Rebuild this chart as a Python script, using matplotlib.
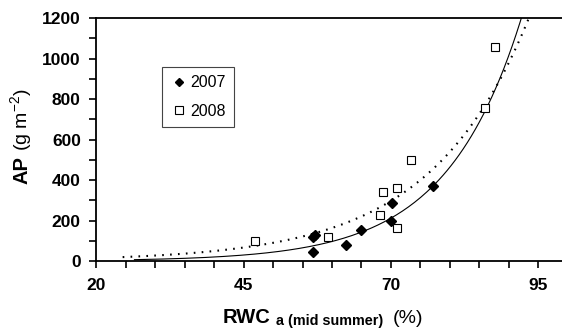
import numpy as np
import matplotlib
matplotlib.use("Agg")
import matplotlib.pyplot as plt
from matplotlib.ticker import FixedLocator, MultipleLocator

plt.rcParams['font.family'] = ['Liberation Sans', 'DejaVu Sans']
plt.rcParams['mathtext.fontset'] = 'custom'
plt.rcParams['mathtext.rm'] = 'Liberation Sans'

# 2007 observations (diamonds)
x_2007 = [56.8, 56.7, 57.2, 62.4, 65.0, 70.1, 70.0, 77.1]
y_2007 = [117, 46, 128, 79, 153, 285, 197, 370]

# 2008 observations (open squares)
x_2008 = [46.9, 59.3, 68.1, 68.7, 71.1, 71.1, 73.4, 85.9, 87.6]
y_2008 = [100, 120, 230, 339, 361, 165, 499, 754, 1058]

# exponential trend lines y = a * exp(b * x), coefficients
fit_2007 = (0.877, 0.0784)
fit_2008 = (4.55, 0.0597)
range_2007 = (26.5, 95)
range_2008 = (24.5, 95)

x_ticks = [20, 45, 70, 95]

fig = plt.figure(figsize=(5.62, 3.28), dpi=100)
ax = fig.add_axes([0.171, 0.204, 0.829, 0.741])

xs = np.linspace(*range_2007, 200)
ax.plot(xs, fit_2007[0] * np.exp(fit_2007[1] * xs), color='black', lw=0.8)
xs = np.linspace(*range_2008, 200)
ax.plot(xs, fit_2008[0] * np.exp(fit_2008[1] * xs), color='black', lw=1.5,
        linestyle=(0, (0.8, 3.0)))

ax.plot(x_2007, y_2007, linestyle='none', marker='D', markersize=5.2,
        color='black', label='2007')
ax.plot(x_2008, y_2008, linestyle='none', marker='s', markersize=6.2,
        markerfacecolor='white', markeredgecolor='black', markeredgewidth=0.8,
        label='2008')

ax.set_xlim(20, 99)
ax.set_ylim(0, 1200)
ax.xaxis.set_major_locator(FixedLocator(x_ticks))
ax.xaxis.set_minor_locator(MultipleLocator(5))
ax.yaxis.set_major_locator(MultipleLocator(200))
ax.yaxis.set_minor_locator(MultipleLocator(100))
ax.tick_params(which='both', direction='out', length=5, width=1.2)
ax.tick_params(axis='x', which='major', pad=7)
ax.tick_params(axis='y', which='major', pad=6)
for lab in ax.get_xticklabels() + ax.get_yticklabels():
    lab.set_fontweight('bold')
    lab.set_fontsize(12.5)
ax.spines['right'].set_visible(False)
for s in ['left', 'bottom', 'top']:
    ax.spines[s].set_linewidth(1.3)

leg = ax.legend(loc='upper left', bbox_to_anchor=(0.142, 0.798), borderaxespad=0,
                fancybox=False, edgecolor='#444444', fontsize=11.5, handlelength=1.1,
                handletextpad=0.15, borderpad=0.5, labelspacing=0.85, framealpha=1,
                markerscale=0.85)
leg.get_frame().set_linewidth(0.8)

# axis titles built from pieces (bold + regular mix)
fig.text(28 / 562, 1 - 170 / 328, 'AP', rotation=90, rotation_mode='anchor',
         fontsize=14.5, fontweight='bold', ha='center', va='baseline')
fig.text(28 / 562, 1 - 120 / 328, '(g m$^{-2}$)', rotation=90, rotation_mode='anchor',
         fontsize=14, ha='center', va='baseline')
fig.text(223 / 562, 1 - 323 / 328, 'RWC', fontsize=14.5, fontweight='bold',
         ha='left', va='baseline')
fig.text(276 / 562, 1 - 325 / 328, 'a (mid summer)', fontsize=10.4,
         fontweight='bold', ha='left', va='baseline')
fig.text(393 / 562, 1 - 323 / 328, '(%)', fontsize=14, ha='left', va='baseline')

fig.savefig('out.png', dpi=100)
